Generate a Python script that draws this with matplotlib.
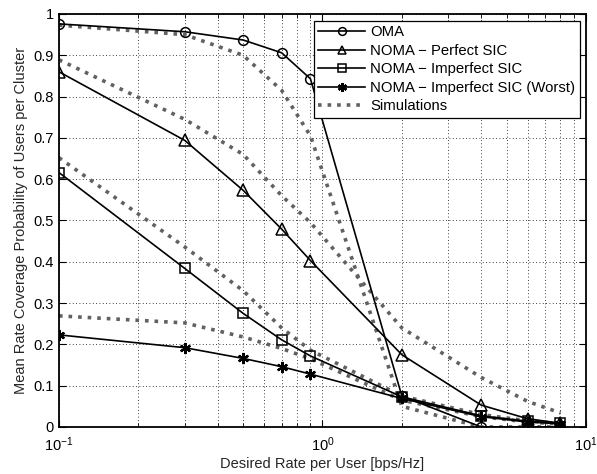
import matplotlib
matplotlib.use("Agg")
from matplotlib import pyplot as plt
from matplotlib.ticker import FixedLocator, LogLocator, NullFormatter

plt.rcParams['font.family'] = ['Liberation Sans', 'DejaVu Sans']
plt.rcParams['mathtext.fontset'] = 'custom'
plt.rcParams['mathtext.rm'] = 'Liberation Sans'

# 期望速率
rate = [0.1, 0.3, 0.5, 0.7, 0.9, 2, 4, 6, 8]

# 解析结果
oma = [0.976, 0.957, 0.937, 0.906, 0.843, 0.075, 0.0, 0.0, 0.0]
noma_perfect = [0.860, 0.694, 0.573, 0.479, 0.403, 0.175, 0.053, 0.020, 0.009]
noma_imperfect = [0.616, 0.384, 0.275, 0.211, 0.172, 0.073, 0.027, 0.014, 0.009]
noma_worst = [0.223, 0.192, 0.166, 0.146, 0.128, 0.069, 0.025, 0.012, 0.008]

# 仿真结果
sim_oma = [0.973, 0.950, 0.900, 0.815, 0.705, 0.050, 0.0, 0.0, 0.0]
sim_perfect = [0.889, 0.745, 0.660, 0.560, 0.495, 0.240, 0.120, 0.062, 0.034]
sim_imperfect = [0.652, 0.436, 0.330, 0.240, 0.186, 0.075, 0.030, 0.015, 0.008]
sim_worst = [0.269, 0.252, 0.218, 0.190, 0.165, 0.065, 0.025, 0.012, 0.007]

labels = ['OMA', 'NOMA \u2212 Perfect SIC', 'NOMA \u2212 Imperfect SIC',
          'NOMA \u2212 Imperfect SIC (Worst)', 'Simulations']

fig = plt.figure(figsize=(5.97, 4.74), dpi=100)
ax = fig.add_axes([0.0988, 0.0992, 0.8828, 0.8713])

sim_style = dict(linestyle=':', color='0.38', linewidth=2.6, zorder=2)
sim_line = None
for s in [sim_oma, sim_perfect, sim_imperfect, sim_worst]:
    sim_line, = ax.plot(rate, s, **sim_style)

h1, = ax.plot(rate, oma, '-o', color='k', lw=1.2, ms=7, mfc='none', mew=1.1, zorder=3)
h2, = ax.plot(rate, noma_perfect, '-^', color='k', lw=1.2, ms=8, mfc='none', mew=1.1, zorder=3)
h3, = ax.plot(rate, noma_imperfect, '-s', color='k', lw=1.2, ms=6.5, mfc='none', mew=1.1, zorder=3)
h4, = ax.plot(rate, noma_worst, '-', marker=(6, 2, 0), color='k', lw=1.2, ms=8, mew=1.6, zorder=3)

ax.set_xscale('log')
ax.set_xlim(0.1, 10)
ax.set_ylim(0, 1)
ax.yaxis.set_major_locator(FixedLocator([i / 10 for i in range(11)]))
ax.set_yticklabels(['0', '0.1', '0.2', '0.3', '0.4', '0.5', '0.6', '0.7', '0.8', '0.9', '1'])
ax.xaxis.set_minor_locator(LogLocator(base=10, subs=range(2, 10)))
ax.xaxis.set_minor_formatter(NullFormatter())

ax.grid(True, which='major', linestyle=(0, (1, 3)), color='k', linewidth=0.6)
ax.grid(True, which='minor', axis='x', linestyle=(0, (1, 3)), color='k', linewidth=0.6)
ax.tick_params(which='both', direction='in', top=True, right=True, labelsize=10.5, colors='k')
ax.tick_params(which='major', length=5, width=0.8)
ax.tick_params(which='minor', length=3, width=0.6)
ax.tick_params(axis='x', pad=6)
for sp in ax.spines.values():
    sp.set_linewidth(1.3)

ax.set_xlabel('Desired Rate per User [bps/Hz]', fontsize=10.5, color='0.15', labelpad=2)
ax.set_ylabel('Mean Rate Coverage Probability of Users per Cluster', fontsize=10.5, color='0.15', labelpad=4)

leg = ax.legend([h1, h2, h3, h4, sim_line], labels, loc='upper right',
                bbox_to_anchor=(0.9885, 0.983), fontsize=10.7, fancybox=False,
                framealpha=1, edgecolor='k', borderpad=0.3, labelspacing=0.3,
                handlelength=3.1, handletextpad=0.4, borderaxespad=0,
                markerscale=0.8)
leg.get_frame().set_linewidth(0.9)

plt.savefig('out.png', dpi=100)
